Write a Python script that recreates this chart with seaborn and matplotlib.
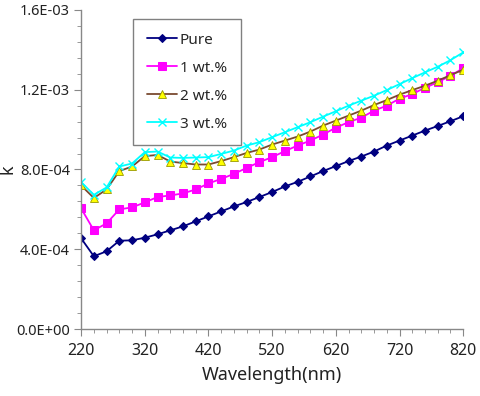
import matplotlib
matplotlib.use("Agg")
import matplotlib.pyplot as plt
import matplotlib.ticker as mticker
import seaborn as sns
import pandas as pd

# wavelength (nm), one point every 20 nm
wavelength = list(range(220, 821, 20))

# extinction coefficient k (x 1e-4)
pure = [4.55, 3.65, 3.9, 4.43, 4.45, 4.58, 4.75, 4.95, 5.15, 5.4, 5.65, 5.9, 6.15,
        6.37, 6.62, 6.87, 7.15, 7.38, 7.65, 7.92, 8.17, 8.42, 8.65, 8.9, 9.2, 9.45,
        9.7, 9.95, 10.18, 10.42, 10.67]
wt1 = [6.05, 4.95, 5.3, 6.0, 6.1, 6.35, 6.62, 6.7, 6.8, 7.0, 7.3, 7.53, 7.78,
       8.08, 8.37, 8.62, 8.92, 9.2, 9.45, 9.75, 10.1, 10.37, 10.6, 10.95, 11.2,
       11.55, 11.78, 12.1, 12.37, 12.7, 13.08]
wt2 = [7.2, 6.57, 7.0, 7.92, 8.15, 8.67, 8.73, 8.4, 8.32, 8.25, 8.25, 8.42, 8.62,
       8.83, 9.0, 9.25, 9.45, 9.65, 9.9, 10.2, 10.45, 10.7, 10.95, 11.23, 11.48,
       11.75, 11.98, 12.2, 12.45, 12.73, 13.0]
wt3 = [7.37, 6.73, 7.1, 8.15, 8.3, 8.87, 8.9, 8.6, 8.58, 8.6, 8.62, 8.78, 8.95,
       9.2, 9.37, 9.62, 9.87, 10.12, 10.37, 10.65, 10.92, 11.2, 11.45, 11.7, 11.98,
       12.28, 12.58, 12.87, 13.15, 13.48, 13.87]

labels = ["Pure", "1 wt.%", "2 wt.%", "3 wt.%"]
series = [pure, wt1, wt2, wt3]

sns.set_style("ticks")
plt.rcParams["font.family"] = ["Noto Sans", "DejaVu Sans"]

fig = plt.figure(figsize=(4.8, 3.96), dpi=100)
ax = fig.add_axes([0.169, 0.169, 0.796, 0.806])

# styles per series (Excel look)
styles = [
    dict(color="#000080", marker="D", markersize=4.5, markerfacecolor="#000080",
         markeredgecolor="#000080"),
    dict(color="#FF00FF", marker="s", markersize=5.5, markerfacecolor="#FF00FF",
         markeredgecolor="#FF00FF"),
    dict(color="#7a4a30", marker="^", markersize=6, markerfacecolor="#FFFF00",
         markeredgecolor="#999900", markeredgewidth=0.6),
    dict(color="#00FFFF", marker="x", markersize=6, markeredgecolor="#00FFFF",
         markeredgewidth=1.0),
]

for lab, vals, st in zip(labels, series, styles):
    df = pd.DataFrame({"wavelength": wavelength, "k": [v * 1e-4 for v in vals]})
    sns.lineplot(data=df, x="wavelength", y="k", ax=ax, label=lab,
                 linewidth=1.3, **st)

ax.set_xlim(220, 820)
ax.set_ylim(0, 1.6e-3)
ax.set_xticks(range(220, 821, 100))
ax.set_yticks([0, 4e-4, 8e-4, 1.2e-3, 1.6e-3])
ax.xaxis.set_minor_locator(mticker.MultipleLocator(20))
ax.yaxis.set_minor_locator(mticker.MultipleLocator(8e-5))
ax.yaxis.set_major_formatter(mticker.FuncFormatter(lambda v, p: f"{v:.1E}"))

sns.despine(ax=ax)
for s in ["left", "bottom"]:
    ax.spines[s].set_color("#888888")
    ax.spines[s].set_linewidth(1.0)
ax.tick_params(axis="y", which="major", length=5, color="#888888", labelsize=10.5,
               pad=3, labelcolor="#222222")
ax.tick_params(axis="x", which="major", length=5, color="#888888", labelsize=11.5,
               pad=5, labelcolor="#222222")
ax.tick_params(which="minor", length=3, color="#888888")

ax.set_xlabel("Wavelength(nm)", fontsize=13, color="#222222", labelpad=5)
ax.set_ylabel("k", fontsize=13, color="#222222")
ax.yaxis.set_label_coords(-0.168, 0.5)

leg = ax.legend(loc="upper left", bbox_to_anchor=(0.136, 0.972), fontsize=11,
                frameon=True, fancybox=False, edgecolor="#808080",
                framealpha=1, handlelength=2.0, labelspacing=0.85,
                borderpad=0.9, handletextpad=0.15, borderaxespad=0)
leg.get_frame().set_linewidth(1.0)

fig.savefig("out.png", dpi=100)
